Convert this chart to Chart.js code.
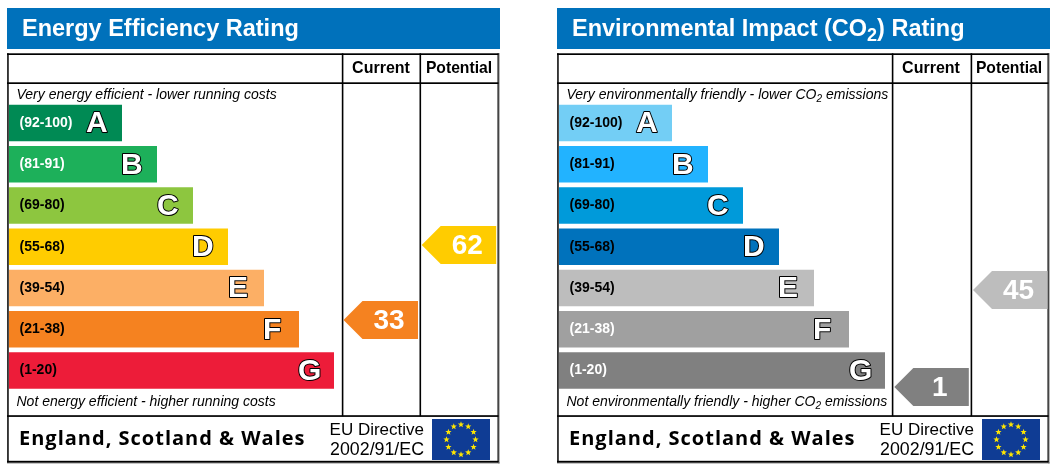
<!DOCTYPE html>
<html>
<head>
<meta charset="utf-8">
<title>EPC ratings</title>
<script src="https://cdn.jsdelivr.net/npm/chart.js@4"></script>
<style>
  html, body { margin: 0; padding: 0; background: #fff; overflow: hidden; }
  canvas { position: absolute; top: 0; }
  #energyChart { left: 0; }
  #environmentChart { left: 550px; }
</style>
</head>
<body>
<canvas id="energyChart" width="507" height="467"></canvas>
<canvas id="environmentChart" width="507" height="467"></canvas>
<script>
// dados
const bandRanges = ['(92-100)', '(81-91)', '(69-80)', '(55-68)', '(39-54)', '(21-38)', '(1-20)'];
const bandLetters = ['A', 'B', 'C', 'D', 'E', 'F', 'G'];
const energyBandLengths = [113, 148, 184, 219, 255, 290, 325];
const environmentBandLengths = [113, 149, 184, 220, 255, 290, 326];

const columnNames = ['Current', 'Potential'];
const energyRatings = [33, 62];
const energyArrowTips = [334.5, 412.7];
const energyArrowRows = [5.275, 3.457];
const environmentRatings = [1, 45];
const environmentArrowTips = [335.3, 414];
const environmentArrowRows = [6.9, 4.548];

// cores
const energyColors = ['#008A54', '#1DB05A', '#8DC63F', '#FFCC00', '#FCAF65', '#F58220', '#ED1C39'];
const environmentColors = ['#73CEF5', '#22B3FF', '#009ADA', '#0072BC', '#BDBDBD', '#A0A0A0', '#808080'];
const energyRangeColors = ['#fff', '#fff', '#000', '#000', '#000', '#000', '#000'];
const environmentRangeColors = ['#000', '#000', '#000', '#000', '#000', '#fff', '#fff'];
const energyArrowColors = ['#F58220', '#FFCC00'];
const environmentArrowColors = ['#808080', '#BDBDBD'];

const SANS = '"Liberation Sans", Arial, sans-serif';

// escreve texto com trechos em subscrito (CO2)
function drawRuns(ctx, x, y, runs, font, subFont, subDrop) {
    for (const run of runs) {
        const isSub = run === '2';
        ctx.font = isSub ? subFont : font;
        ctx.fillText(run, x, isSub ? y + subDrop : y);
        x += ctx.measureText(run).width;
    }
}

function drawStar(ctx, cx, cy, r) {
    ctx.beginPath();
    for (let i = 0; i < 10; i++) {
        const a = -Math.PI / 2 + i * Math.PI / 5;
        const d = i % 2 ? r * 0.42 : r;
        ctx.lineTo(cx + Math.cos(a) * d, cy + Math.sin(a) * d);
    }
    ctx.closePath();
    ctx.fill();
}

// moldura, títulos e rodapé de cada painel
const framePlugin = {
    id: 'epcFrame',
    beforeDraw(chart, args, opts) {
        const ctx = chart.ctx;
        ctx.save();
        ctx.textBaseline = 'alphabetic';
        ctx.textAlign = 'left';

        ctx.fillStyle = '#0071BB';
        ctx.fillRect(7, 8, 493, 41);
        ctx.fillStyle = '#fff';
        drawRuns(ctx, 22, 36, opts.title, 'bold 23.5px ' + SANS, 'bold 18px ' + SANS, 5);

        // linhas da tabela
        ctx.fillStyle = '#8a8a8a';
        ctx.fillRect(498, 53, 1.6, 410.5);
        ctx.fillRect(7, 462, 492.6, 1.5);
        ctx.fillStyle = '#000';
        ctx.fillRect(7, 53.3, 491.5, 1.7);
        ctx.fillRect(7, 82.3, 491.5, 1.7);
        ctx.fillRect(7, 415.2, 491.5, 1.7);
        ctx.fillRect(7, 460.8, 491.5, 1.7);
        ctx.fillRect(7.2, 53.3, 1.5, 409);
        ctx.fillRect(opts.columnLines[0], 53.3, 1.6, 363);
        ctx.fillRect(opts.columnLines[1], 53.3, 1.6, 363);
        ctx.fillRect(497.5, 53.3, 1, 409);

        ctx.textAlign = 'center';
        ctx.font = 'bold 16px ' + SANS;
        ctx.fillText(columnNames[0], 381, 73);
        ctx.font = 'bold 15.7px ' + SANS;
        ctx.fillText(columnNames[1], 459, 73);

        ctx.textAlign = 'left';
        drawRuns(ctx, 16.5, 99, opts.topNote, 'italic 14px ' + SANS, 'italic 10px ' + SANS, 3);
        drawRuns(ctx, 16.5, 406, opts.bottomNote, 'italic 14px ' + SANS, 'italic 10px ' + SANS, 3);

        ctx.font = 'bold 20px "Open Sans", sans-serif';
        ctx.letterSpacing = '1px';
        ctx.fillText('England, Scotland & Wales', 19, 445);
        ctx.letterSpacing = '0px';

        ctx.textAlign = 'right';
        ctx.font = '17px ' + SANS;
        ctx.fillText('EU Directive', 424, 435);
        ctx.font = '17.8px ' + SANS;
        ctx.fillText('2002/91/EC', 424, 455);

        // bandeira da UE
        ctx.fillStyle = '#0F3C94';
        ctx.fillRect(432, 419, 58, 41);
        ctx.fillStyle = '#FFE600';
        for (let i = 0; i < 12; i++) {
            const a = i * Math.PI / 6;
            drawStar(ctx, 461 + Math.sin(a) * 14.5, 439.5 - Math.cos(a) * 15, 3.3);
        }
        ctx.restore();
    }
};

// letras das faixas e setas das avaliações
const marksPlugin = {
    id: 'epcMarks',
    afterDatasetsDraw(chart) {
        const ctx = chart.ctx;
        const bars = chart.getDatasetMeta(0).data;
        const arrows = chart.getDatasetMeta(1).data;
        const arrowSet = chart.data.datasets[1];
        ctx.save();

        ctx.font = 'bold 30px ' + SANS;
        ctx.textAlign = 'left';
        ctx.textBaseline = 'middle';
        ctx.lineJoin = 'round';
        bars.forEach((bar, i) => {
            ctx.strokeStyle = '#000';
            ctx.lineWidth = 2;
            ctx.strokeText(bandLetters[i], bar.x - 36, bar.y + 1);
            ctx.fillStyle = '#fff';
            ctx.fillText(bandLetters[i], bar.x - 36, bar.y + 1);
        });

        arrows.forEach((pt, i) => {
            ctx.fillStyle = arrowSet.arrowColors[i];
            ctx.beginPath();
            ctx.moveTo(pt.x, pt.y);
            ctx.lineTo(pt.x + 19, pt.y - 19);
            ctx.lineTo(pt.x + 74.5, pt.y - 19);
            ctx.lineTo(pt.x + 74.5, pt.y + 19);
            ctx.lineTo(pt.x + 19, pt.y + 19);
            ctx.closePath();
            ctx.fill();

            ctx.fillStyle = '#fff';
            ctx.font = 'bold 28px ' + SANS;
            ctx.textAlign = 'center';
            ctx.fillText(String(arrowSet.ratings[i]), pt.x + 45.5, pt.y + 1);
        });
        ctx.restore();
    }
};

function createPanel(canvasId, lengths, colors, rangeColors, ratings, tips, rows, arrowColors, frame) {
    return new Chart(document.getElementById(canvasId), {
        type: 'bar',
        data: {
            labels: bandRanges,
            datasets: [{
                data: lengths,
                backgroundColor: colors,
                borderWidth: 0,
                grouped: false, // a segunda série usa outro eixo y
                categoryPercentage: 1,
                barPercentage: 0.885
            }, {
                type: 'scatter',
                indexAxis: 'x',
                xAxisID: 'x',
                yAxisID: 'yRows',
                data: tips.map((tip, i) => ({ x: tip, y: rows[i] })),
                ratings: ratings,
                arrowColors: arrowColors,
                pointRadius: 0
            }]
        },
        options: {
            indexAxis: 'y',
            responsive: false,
            animation: false,
            layout: { padding: { left: 9, right: 9, top: 102.4, bottom: 75.9 } },
            plugins: {
                legend: { display: false },
                tooltip: { enabled: false },
                epcFrame: frame
            },
            scales: {
                x: { type: 'linear', display: false, min: 0, max: 489 },
                y: {
                    type: 'category',
                    grid: { display: false, drawTicks: false },
                    border: { display: false },
                    afterFit: (scale) => { scale.width = 0; },
                    ticks: {
                        mirror: true,
                        z: 1, // por cima das barras
                        padding: 10.5,
                        autoSkip: false,
                        font: { family: SANS, size: 14, weight: 'bold' },
                        color: (c) => rangeColors[c.index]
                    }
                },
                // offset desligado: o padrão do tipo bar encolhe este eixo
                yRows: { axis: 'y', type: 'linear', display: false, offset: false, reverse: true, min: 0, max: 7 }
            }
        },
        plugins: [framePlugin, marksPlugin]
    });
}

createPanel('energyChart', energyBandLengths, energyColors, energyRangeColors,
    energyRatings, energyArrowTips, energyArrowRows, energyArrowColors, {
        columnLines: [341.8, 419.5],
        title: ['Energy Efficiency Rating'],
        topNote: ['Very energy efficient - lower running costs'],
        bottomNote: ['Not energy efficient - higher running costs']
    });

createPanel('environmentChart', environmentBandLengths, environmentColors, environmentRangeColors,
    environmentRatings, environmentArrowTips, environmentArrowRows, environmentArrowColors, {
        columnLines: [341.8, 420.6],
        title: ['Environmental Impact (CO', '2', ') Rating'],
        topNote: ['Very environmentally friendly - lower CO', '2', ' emissions'],
        bottomNote: ['Not environmentally friendly - higher CO', '2', ' emissions']
    });
</script>
</body>
</html>
